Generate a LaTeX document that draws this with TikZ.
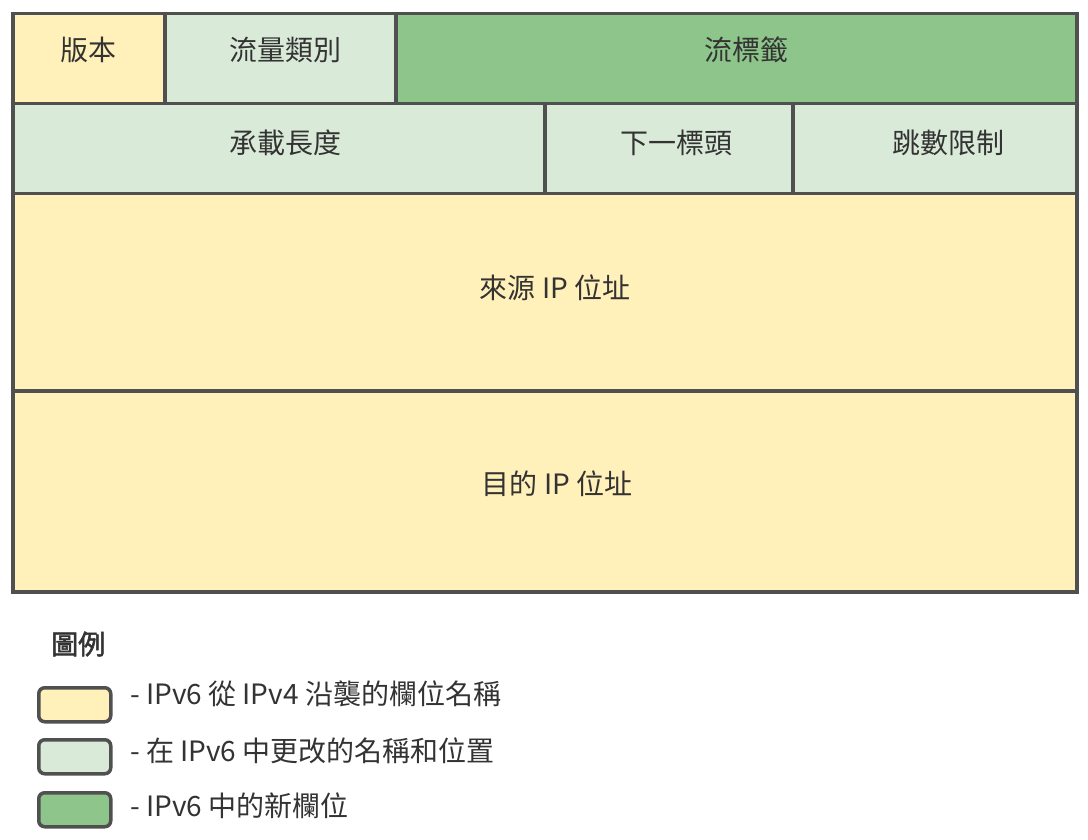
\documentclass[tikz,border=0pt]{standalone}
\usepackage{fontspec}
\setmainfont{Noto Sans CJK TC}
\newfontfamily\cjkbold[FakeBold=2]{Noto Sans CJK TC}
\definecolor{yel}{HTML}{FFF1B9}
\definecolor{lgr}{HTML}{DAEAD8}
\definecolor{dgr}{HTML}{8EC58A}
\definecolor{bord}{HTML}{505050}
\definecolor{txt}{HTML}{333333}
\begin{document}
\begin{tikzpicture}[x=1pt,y=-1pt,
  cell/.style={draw=bord,line width=3.5pt,inner sep=0pt,anchor=north west},
  lab/.style={text=txt,font=\fontsize{28}{28}\selectfont,inner sep=0pt},
  key/.style={draw=bord,line width=3.5pt,rounded corners=6pt,minimum width=72pt,minimum height=34pt,inner sep=0pt,anchor=north west},
  ltxt/.style={text=txt,font=\fontsize{28}{28}\selectfont,inner sep=0pt,anchor=west}]
\useasboundingbox[fill=white] (0,0) rectangle (1088,840);
% row 1
\node[cell,fill=yel,minimum width=152pt,minimum height=90pt] (ver) at (11,12) {};
\node[cell,fill=lgr,minimum width=231pt,minimum height=90pt] (tc) at (163,12) {};
\node[cell,fill=dgr,minimum width=681pt,minimum height=90pt] (fl) at (394,12) {};
% row 2
\node[cell,fill=lgr,minimum width=532pt,minimum height=90pt] (pl) at (11,102) {};
\node[cell,fill=lgr,minimum width=248pt,minimum height=90pt] (nh) at (543,102) {};
\node[cell,fill=lgr,minimum width=284pt,minimum height=90pt] (hl) at (791,102) {};
% rows 3,4
\node[cell,fill=yel,minimum width=1064pt,minimum height=197pt] (src) at (11,192) {};
\node[cell,fill=yel,minimum width=1064pt,minimum height=201pt] (dst) at (11,389) {};
% labels
\node[lab] (tver) at (88,50) {版本};
\node[lab] (ttc) at (285,50) {流量類別};
\node[lab] (tfl) at (746,50) {流標籤};
\node[lab] (tpl) at (285,143) {承載長度};
\node[lab] (tnh) at (676,143) {下一標頭};
\node[lab] (thl) at (948,143) {跳數限制};
\node[lab] (tsrc) at (555,288) {來源 IP 位址};
\node[lab] (tdst) at (557,484) {目的 IP 位址};
% legend
\node[text=txt,font=\fontsize{27}{27}\cjkbold,inner sep=0pt,anchor=west] (lt) at (51,644) {圖例};
\node[key,fill=yel] (k1) at (37,686) {};
\node[key,fill=lgr] (k2) at (37,738) {};
\node[key,fill=dgr] (k3) at (37,791) {};
\node[ltxt] (l1) at (130,694) {- IPv6 從 IPv4 沿襲的欄位名稱};
\node[ltxt] (l2) at (130,751) {- 在 IPv6 中更改的名稱和位置};
\node[ltxt] (l3) at (130,806) {- IPv6 中的新欄位};
\end{tikzpicture}
\end{document}
